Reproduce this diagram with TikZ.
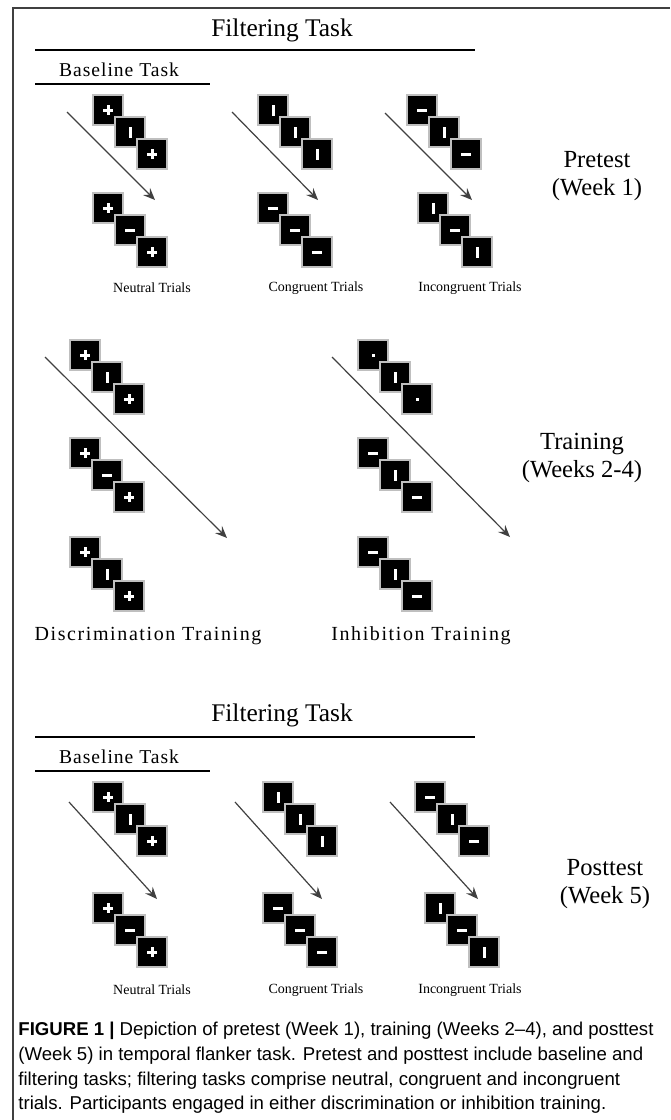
\documentclass[tikz,border=0pt]{standalone}
\usepackage{fontspec}
\setmainfont{Liberation Serif}
\newfontfamily\capfont{Liberation Sans}
\usetikzlibrary{arrows.meta}
\newcommand\flank[6]{%
\node[stim,#4] (#1a) at (#2+15,#3+15) {};
\node[stim,#5] (#1b) at (#2+37,#3+37) {};
\node[stim,#6] (#1c) at (#2+59,#3+59) {};}
\begin{document}
\begin{tikzpicture}[x=0.5pt,y=-0.5pt,
stim/.style={draw=gray!50,line width=0.8pt,fill=black,minimum size=15pt,inner sep=0pt},
symplus/.style={path picture={\fill[white](path picture bounding box.center)++(-5,-1.5)rectangle++(10,3);
\fill[white](path picture bounding box.center)++(-1.5,-5)rectangle++(3,10);}},
symbar/.style={path picture={\fill[white](path picture bounding box.center)++(-1.5,-5.5)rectangle++(3,11);}},
symminus/.style={path picture={\fill[white](path picture bounding box.center)++(-5,-1.5)rectangle++(10,3);}},
symdot/.style={path picture={\fill[white](path picture bounding box.center)++(-1.5,-1.5)rectangle++(3,3);}},
arr/.style={draw=black!75,line width=0.6pt,-{Stealth[length=6pt,width=5pt,inset=2.2pt]}},
head/.style={font=\fontsize{12.7}{14}\selectfont},
sub/.style={font=\fontsize{9.8}{12}\selectfont\addfontfeature{LetterSpace=5}},
side/.style={font=\fontsize{12.3}{14}\selectfont,align=center},
trial/.style={font=\fontsize{7}{8}\selectfont},
train/.style={font=\fontsize{10}{12}\selectfont\addfontfeature{LetterSpace=8}},
rule/.style={line width=1.35pt},
capline/.style={anchor=base west,inner sep=0pt,font=\capfont\fontsize{9.3}{12}\selectfont}]
\useasboundingbox(0,0)rectangle(670,1120);
\draw[draw=black!75,line width=1pt](13,1120)--(13,8)--(670,8);
% pretest
\node[head](ft1)at(282,30){Filtering Task};
\draw[rule](35,50)--(475,50);
\node[sub](bt1)at(119,70){Baseline Task};
\draw[rule](35,84)--(210,84);
\flank{pn1}{93}{95}{symplus}{symbar}{symplus}
\flank{pn2}{93}{193}{symplus}{symminus}{symplus}
\flank{pc1}{258}{95}{symbar}{symbar}{symbar}
\flank{pc2}{258}{193}{symminus}{symminus}{symminus}
\flank{pi1}{407}{95}{symminus}{symbar}{symminus}
\flank{pi2}{418}{193}{symbar}{symminus}{symbar}
\coordinate(pa1)at(67,112);\coordinate(pa2)at(155,200);\draw[arr](pa1)--(pa2);
\coordinate(pb1)at(232,112);\coordinate(pb2)at(318,200);\draw[arr](pb1)--(pb2);
\coordinate(pc1s)at(385,113);\coordinate(pc2s)at(472,200);\draw[arr](pc1s)--(pc2s);
\node[trial](pn)at(152,288){Neutral Trials};
\node[trial](pc)at(316,288){Congruent Trials};
\node[trial](pi)at(470,288){Incongruent Trials};
\node[side](pre)at(597,176){Pretest\\(Week 1)};
% training
\flank{dt1}{70}{340}{symplus}{symbar}{symplus}
\flank{dt2}{70}{438}{symplus}{symminus}{symplus}
\flank{dt3}{70}{537}{symplus}{symbar}{symplus}
\flank{it1}{358}{340}{symdot}{symbar}{symdot}
\flank{it2}{358}{438}{symminus}{symbar}{symminus}
\flank{it3}{358}{537}{symminus}{symbar}{symminus}
\coordinate(da1)at(45,357);\coordinate(da2)at(227,538);\draw[arr](da1)--(da2);
\coordinate(ia1)at(332,357);\coordinate(ia2)at(510,537);\draw[arr](ia1)--(ia2);
\node[train](dtl)at(148,636){Discrimination Training};
\node[train](itl)at(421,636){Inhibition Training};
\node[side](trn)at(582,458){Training\\(Weeks 2-4)};
% posttest
\node[head](ft2)at(282,715){Filtering Task};
\draw[rule](35,737)--(475,737);
\node[sub](bt2)at(119,757){Baseline Task};
\draw[rule](35,771)--(210,771);
\flank{qn1}{93}{782}{symplus}{symbar}{symplus}
\flank{qn2}{93}{893}{symplus}{symminus}{symplus}
\flank{qc1}{263}{782}{symbar}{symbar}{symbar}
\flank{qc2}{263}{893}{symminus}{symminus}{symminus}
\flank{qi1}{415}{782}{symminus}{symbar}{symminus}
\flank{qi2}{425}{893}{symbar}{symminus}{symbar}
\coordinate(qa1)at(69,802);\coordinate(qa2)at(157,899);\draw[arr](qa1)--(qa2);
\coordinate(qb1)at(235,802);\coordinate(qb2)at(322,899);\draw[arr](qb1)--(qb2);
\coordinate(qc1s)at(390,802);\coordinate(qc2s)at(478,899);\draw[arr](qc1s)--(qc2s);
\node[trial](qn)at(152,990){Neutral Trials};
\node[trial](qc)at(316,990){Congruent Trials};
\node[trial](qi)at(470,990){Incongruent Trials};
\node[side](post)at(605,884){Posttest\\(Week 5)};
% caption
\node[capline](cap1)at(18,1035){\textbf{FIGURE 1 |} Depiction of pretest (Week 1), training (Weeks 2–4), and posttest};
\node[capline](cap2)at(18,1060){(Week 5) in temporal flanker task. Pretest and posttest include baseline and};
\node[capline](cap3)at(18,1085){filtering tasks; filtering tasks comprise neutral, congruent and incongruent};
\node[capline](cap4)at(18,1109){trials. Participants engaged in either discrimination or inhibition training.};
\end{tikzpicture}
\end{document}
